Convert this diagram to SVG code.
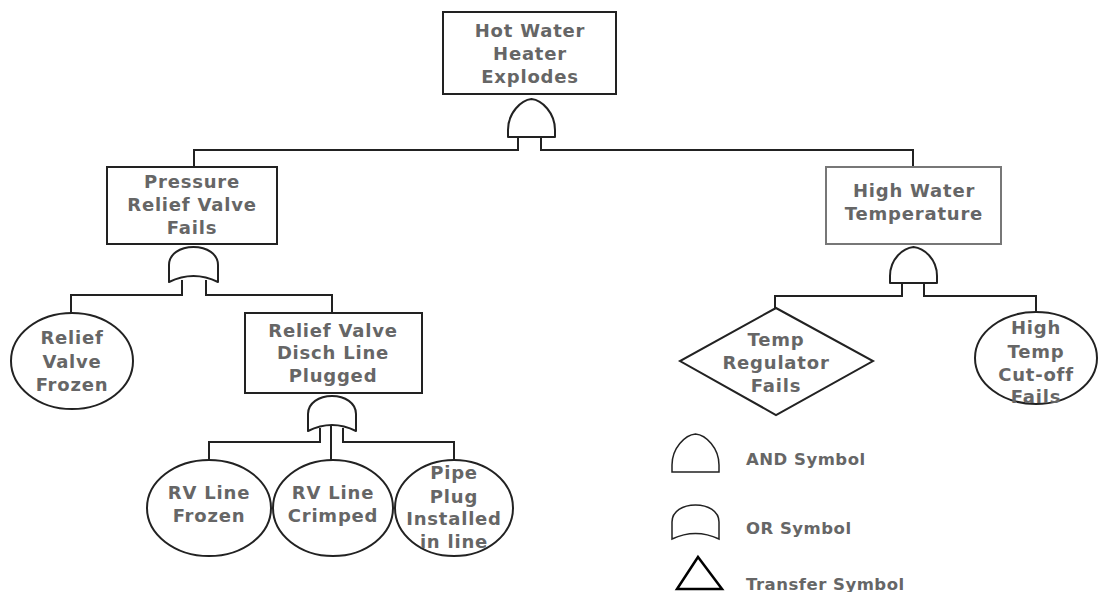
<svg xmlns="http://www.w3.org/2000/svg" width="1098" height="592" viewBox="0 0 1098 592">
<style>
.box{fill:#fff;stroke:#222;stroke-width:2}
.box2{fill:#fff;stroke:#777;stroke-width:2}
.gate{fill:#fff;stroke:#222;stroke-width:2;stroke-linejoin:round}
.lg{fill:#fff;stroke:#222;stroke-width:1.5}
.tri{fill:#fff;stroke:#000;stroke-width:2.5}
.conn{fill:none;stroke:#222;stroke-width:2}
text{font-family:"DejaVu Sans","Liberation Sans",sans-serif;font-weight:bold;font-size:18px;fill:#666;text-anchor:middle;letter-spacing:0.8px}
.leg{text-anchor:start;font-size:16.5px;letter-spacing:0.5px}
</style>
<rect width="1098" height="592" fill="#fff"/>
<g id="connectors">
<path class="conn" d="M518,137 V150 H194 V167"/>
<path class="conn" d="M541,137 V150 H913 V167"/>
<path class="conn" d="M182,280 V295 H71 V313"/>
<path class="conn" d="M206,280 V295 H332 V313"/>
<path class="conn" d="M320,428 V442 H209 V460"/>
<path class="conn" d="M331,426 V460"/>
<path class="conn" d="M343,428 V442 H454 V460"/>
<path class="conn" d="M902,283 V296 H775 V308"/>
<path class="conn" d="M924,283 V296 H1036 V313"/>
</g>
<g id="top-event">
<rect class="box" x="443" y="12" width="173" height="82"/>
<text x="530" y="37">Hot Water</text>
<text x="530" y="60">Heater</text>
<text x="530" y="83">Explodes</text>
</g>
<g id="gate-top-and">
<path class="gate" d="M508,137 L508,130 C508,113 521,100 531.5,99 C542,100 555,113 555,130 L555,137 Z"/>
</g>
<g id="pressure-relief">
<rect class="box" x="107" y="167" width="170" height="77"/>
<text x="192" y="188">Pressure</text>
<text x="192" y="211">Relief Valve</text>
<text x="192" y="234">Fails</text>
</g>
<g id="gate-pressure-or">
<path class="gate" d="M169,282 L169,265 C169,254 180,247 193.5,247 C207,247 218,254 218,265 L218,282 Q193.5,270 169,282 Z"/>
</g>
<g id="relief-valve-frozen">
<ellipse class="box" cx="72" cy="361" rx="61" ry="48"/>
<text x="72" y="344">Relief</text>
<text x="72" y="368">Valve</text>
<text x="72" y="391">Frozen</text>
</g>
<g id="disch-line-plugged">
<rect class="box" x="245" y="313" width="177" height="80"/>
<text x="333" y="337">Relief Valve</text>
<text x="333" y="359">Disch Line</text>
<text x="333" y="382">Plugged</text>
</g>
<g id="gate-disch-or">
<path class="gate" d="M308,431 L308,414 C308,403 319,396 332,396 C345,396 356,403 356,414 L356,431 Q332,419 308,431 Z"/>
</g>
<g id="rv-line-frozen">
<ellipse class="box" cx="209" cy="508" rx="62" ry="48"/>
<text x="209" y="499">RV Line</text>
<text x="209" y="522">Frozen</text>
</g>
<g id="rv-line-crimped">
<ellipse class="box" cx="333" cy="508" rx="60" ry="48"/>
<text x="333" y="499">RV Line</text>
<text x="333" y="522">Crimped</text>
</g>
<g id="pipe-plug">
<ellipse class="box" cx="454" cy="508" rx="59" ry="48"/>
<text x="454" y="479">Pipe</text>
<text x="454" y="503">Plug</text>
<text x="454" y="525">Installed</text>
<text x="454" y="548">in line</text>
</g>
<g id="high-water-temp">
<rect class="box2" x="826" y="167" width="175" height="77"/>
<text x="914" y="197">High Water</text>
<text x="914" y="220">Temperature</text>
</g>
<g id="gate-hwt-and">
<path class="gate" d="M890,283 L890,276 C890,259 903,248 913.5,247 C924,248 937,259 937,276 L937,283 Z"/>
</g>
<g id="temp-regulator">
<polygon class="box" points="776,308 873,361 776,415 680,361"/>
<text x="776" y="346">Temp</text>
<text x="776" y="369">Regulator</text>
<text x="776" y="392">Fails</text>
</g>
<g id="high-temp-cutoff">
<ellipse class="box" cx="1036" cy="358" rx="61" ry="46"/>
<text x="1036" y="334">High</text>
<text x="1036" y="358">Temp</text>
<text x="1036" y="381">Cut-off</text>
<text x="1036" y="403">Fails</text>
</g>
<g id="legend">
<path class="lg" d="M672,472 L672,465 C672,448 685,435 695.5,434 C706,435 719,448 719,465 L719,472 Z"/>
<text class="leg" x="746" y="465">AND Symbol</text>
<path class="lg" d="M672,539 L672,522 C672,511 683,505 695.5,505 C708,505 719,511 719,522 L719,539 Q695.5,528 672,539 Z"/>
<text class="leg" x="746" y="534">OR Symbol</text>
<polygon class="tri" points="698,557 722,589 677,589"/>
<text class="leg" x="746" y="590">Transfer Symbol</text>
</g>
</svg>
